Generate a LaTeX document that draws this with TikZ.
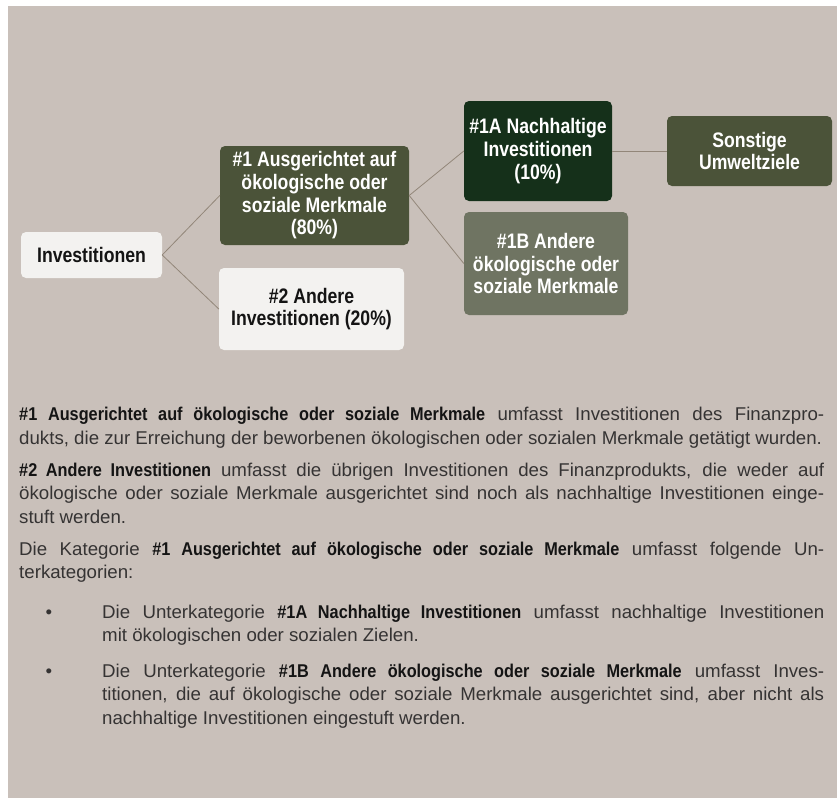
\documentclass[tikz,border=0pt]{standalone}
\usepackage{fontspec}
\setmainfont{Liberation Sans}[FakeStretch=1.01]
\newfontfamily\nodefont{Liberation Sans}[FakeStretch=0.84]
\newfontfamily\bodybold{Liberation Sans}[FakeStretch=0.88]
\definecolor{bg}{HTML}{C9C0BA}
\definecolor{lightbox}{HTML}{F3F2F0}
\definecolor{olive}{HTML}{4B5339}
\definecolor{darkgreen}{HTML}{15301A}
\definecolor{greyolive}{HTML}{6F7462}
\definecolor{linec}{HTML}{928679}
\definecolor{bodyc}{HTML}{353333}
\definecolor{boldc}{HTML}{141414}
\newcommand\hb[1]{\textcolor{boldc}{\bodybold\bfseries #1}}
\newcommand\jl[2]{\makebox[#1][s]{#2}}
\tikzset{
  box/.style={rectangle, rounded corners=5pt, inner sep=0pt, align=center,
    font=\nodefont\bfseries\fontsize{21}{22.7}\selectfont},
  lbox/.style={box, fill=lightbox, text=boldc},
  dbox/.style={box, text=white},
  conn/.style={draw=linec, line width=0.8pt},
  bodyline/.style={anchor=base west, inner sep=0pt, text=bodyc,
    font=\fontsize{18.5}{23.5}\selectfont},
  bul/.style={anchor=base, inner sep=0pt, text=bodyc, font=\fontsize{18.5}{23.5}\selectfont}
}
\begin{document}
\begin{tikzpicture}[x=1pt,y=-1pt]
\useasboundingbox (0,0) rectangle (839,798);
\fill[white] (0,0) rectangle (839,798);
\fill[bg] (7.5,6) rectangle (837,798);
% diagram
\node[lbox, minimum width=141pt, minimum height=46pt] (inv) at (91.5,255) {Investitionen};
\node[dbox, fill=olive, minimum width=189pt, minimum height=99pt] (n1) at (314.5,195.5)
  {\#1 Ausgerichtet auf\\ökologische oder\\soziale Merkmale\\(80\%)};
\node[lbox, minimum width=185pt, minimum height=82pt] (n2) at (311.5,309)
  {\#2 Andere\\Investitionen (20\%)};
\node[dbox, fill=darkgreen, minimum width=148pt, minimum height=100pt] (n1a) at (538,151)
  {\#1A Nachhaltige\\Investitionen\\(10\%)};
\node[dbox, fill=greyolive, minimum width=164pt, minimum height=103pt] (n1b) at (546,263.5)
  {\#1B Andere\\ökologische oder\\soziale Merkmale};
\node[dbox, fill=olive, minimum width=165pt, minimum height=70pt] (son) at (749.5,151)
  {Sonstige\\Umweltziele};
\draw[conn] (inv.east) -- (n1.west);
\draw[conn] (inv.east) -- (n2.west);
\draw[conn] (n1.east) -- (n1a.west);
\draw[conn] (n1.east) -- (n1b.west);
\draw[conn] (n1a.east) -- (son.west);
% text
\node[bodyline] (p1a) at (19,420.5) {\jl{805pt}{\hb{\#1 Ausgerichtet auf ökologische oder soziale Merkmale} umfasst Investitionen des Finanzpro-}};
\node[bodyline] (p1b) at (19,444) {dukts, die zur Erreichung der beworbenen ökologischen oder sozialen Merkmale getätigt wurden.};
\node[bodyline] (p2a) at (19,476) {\jl{805pt}{\hb{\#2 Andere Investitionen} umfasst die übrigen Investitionen des Finanzprodukts, die weder auf}};
\node[bodyline] (p2b) at (19,499.5) {\jl{805pt}{ökologische oder soziale Merkmale ausgerichtet sind noch als nachhaltige Investitionen einge-}};
\node[bodyline] (p2c) at (19,523) {stuft werden.};
\node[bodyline] (p3a) at (19,555) {\jl{805pt}{Die Kategorie \hb{\#1 Ausgerichtet auf ökologische oder soziale Merkmale} umfasst folgende Un-}};
\node[bodyline] (p3b) at (19,578.5) {terkategorien:};
\node[bul] (b1) at (49,618) {•};
\node[bodyline] (b1a) at (102,618) {\jl{722pt}{Die Unterkategorie \hb{\#1A Nachhaltige Investitionen} umfasst nachhaltige Investitionen}};
\node[bodyline] (b1b) at (102,641.5) {mit ökologischen oder sozialen Zielen.};
\node[bul] (b2) at (49,677) {•};
\node[bodyline] (b2a) at (102,677) {\jl{722pt}{Die Unterkategorie \hb{\#1B Andere ökologische oder soziale Merkmale} umfasst Inves-}};
\node[bodyline] (b2b) at (102,700.5) {\jl{722pt}{titionen, die auf ökologische oder soziale Merkmale ausgerichtet sind, aber nicht als}};
\node[bodyline] (b2c) at (102,724) {nachhaltige Investitionen eingestuft werden.};
\end{tikzpicture}
\end{document}
